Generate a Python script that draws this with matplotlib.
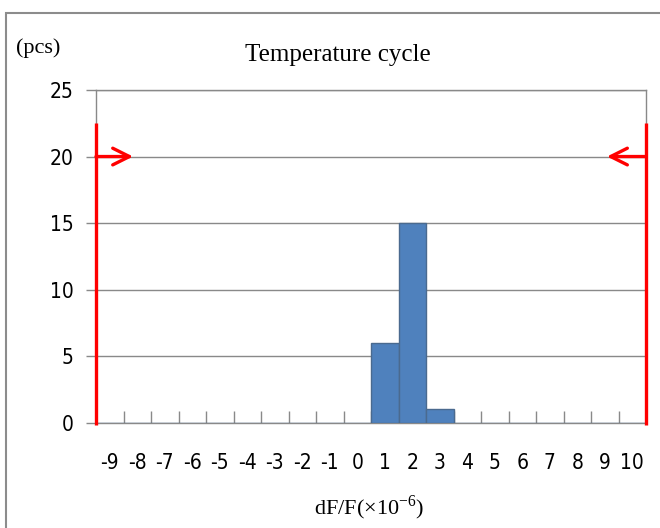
import matplotlib
matplotlib.use('Agg')
import matplotlib.pyplot as plt
from matplotlib.patches import Rectangle

# ---------------- data ----------------
categories = ['-9', '-8', '-7', '-6', '-5', '-4', '-3', '-2', '-1', '0',
              '1', '2', '3', '4', '5', '6', '7', '8', '9', '10']
counts = [0, 0, 0, 0, 0, 0, 0, 0, 0, 0,
          6, 15, 1, 0, 0, 0, 0, 0, 0, 0]
y_ticks = [0, 5, 10, 15, 20, 25]
limit_level = 20

plt.rcParams['mathtext.fontset'] = 'custom'
plt.rcParams['mathtext.rm'] = 'Liberation Serif'

tick_font = ['DejaVu Sans']
serif_font = ['Liberation Serif', 'DejaVu Serif']
grid_col = '#898989'
bar_col = '#4f81bd'

fig = plt.figure(figsize=(6.6, 5.28), dpi=100)

# outer chart border (cut at right/bottom)
fig.patches.append(Rectangle((6 / 660, -0.1), 1.0, (528 - 13) / 528 + 0.1,
                             transform=fig.transFigure, fill=False,
                             edgecolor='#8c8c8c', linewidth=1.5))

ax = fig.add_axes([96 / 660, 105.3 / 528, 550 / 660, 332.7 / 528])

x = list(range(len(categories)))
ax.bar(x, counts, width=1.0, color=bar_col, edgecolor='#4a6a8f', linewidth=1.0, zorder=3)

ax.set_xlim(-0.5, len(categories) - 0.5)
ax.set_ylim(0, 25)

# gridlines
for v in y_ticks[1:]:
    ax.axhline(v, color=grid_col, linewidth=1.0, zorder=1)

for s in ['left', 'right', 'top', 'bottom']:
    ax.spines[s].set_color(grid_col)
    ax.spines[s].set_linewidth(1.0)

ax.set_yticks(y_ticks)
ax.set_yticklabels([str(v) for v in y_ticks], family=tick_font, fontsize=15,
                   fontstretch='condensed')
ax.tick_params(axis='y', length=7, width=1, color=grid_col, direction='out', pad=9)

ax.set_xticks(x)
ax.set_xticklabels(categories, family=tick_font, fontsize=15, fontstretch='condensed')
ax.tick_params(axis='x', length=0, pad=22)
ax.set_xticks([i + 0.5 for i in x[:-1]], minor=True)
ax.tick_params(axis='x', which='minor', length=9, width=1, color=grid_col, direction='in')

# red limit lines and arrows
for xl in [-0.5, len(categories) - 0.5]:
    ax.plot([xl, xl], [-0.17, 22.5], color='#ff0000', linewidth=2.4,
            zorder=5, clip_on=False, solid_capstyle='butt')

ax.annotate('', xy=(0.85, limit_level), xytext=(-0.5, limit_level),
            arrowprops=dict(arrowstyle='->', color='#ff0000', lw=2.4,
                            mutation_scale=30, shrinkA=0, shrinkB=0), zorder=6)
ax.annotate('', xy=(18.08, limit_level), xytext=(len(categories) - 0.5, limit_level),
            arrowprops=dict(arrowstyle='->', color='#ff0000', lw=2.4,
                            mutation_scale=30, shrinkA=0, shrinkB=0), zorder=6)

# texts
fig.text(338 / 660, 1 - 55 / 528, 'Temperature cycle', family=serif_font,
         fontsize=18, ha='center', va='center')
fig.text(38 / 660, 1 - 48 / 528, '(pcs)', family=serif_font,
         fontsize=16, ha='center', va='center')
fig.text(369 / 660, 1 - 508 / 528, 'dF/F(×10$^{\\mathregular{-6}}$)', family=serif_font,
         fontsize=16, ha='center', va='center')

fig.savefig('out.png', dpi=100)
